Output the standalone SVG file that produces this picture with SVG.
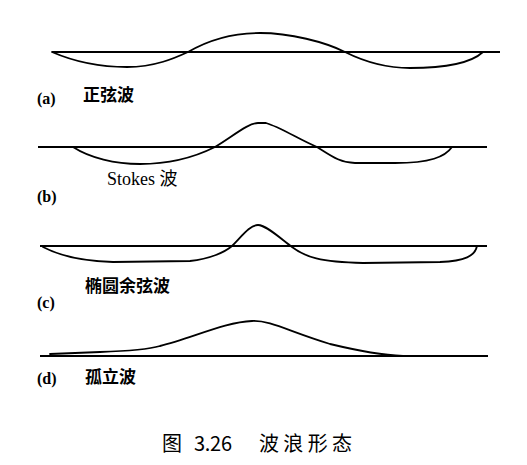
<svg xmlns="http://www.w3.org/2000/svg" width="527" height="465" viewBox="0 0 527 465">
<style>
.base{stroke:#000;stroke-width:1.8;fill:none}
.wave{stroke:#000;stroke-width:1.8;fill:none;stroke-linejoin:round;stroke-linecap:round}
.lab{font-family:"Liberation Serif",serif;font-weight:bold;font-size:16px;fill:#000}
.cjk{font-family:"Noto Sans CJK SC",sans-serif;font-weight:bold;font-size:17px;fill:#000}
.en{font-family:"Liberation Serif","Noto Sans CJK SC",serif;font-size:18px;fill:#000}
.cap{font-family:"Noto Sans CJK SC",sans-serif;font-size:20px;fill:#000}
</style>
<rect width="527" height="465" fill="#fff"/>
<g id="panel-a">
<line class="base" x1="52" y1="52" x2="500" y2="52"/>
<path class="wave" d="M52,52 C75,62 100,67 127,67 C155,67 175,58 188,52 C205,42 230,33 260,33 C290,33 325,42 345,52 C365,62 385,68 410,68 C440,68 470,64 483,52"/>
<text class="lab" x="37" y="104">(a)</text>
<text class="cjk" x="83" y="101">正弦波</text>
</g>
<g id="panel-b">
<line class="base" x1="38" y1="147" x2="487" y2="147"/>
<path class="wave" d="M73,147 C90,158 115,164 140,164 C170,164 195,157 215,147 C232,137 248,123 258,123 L266,123 C280,127 300,140 317,147 C330,155 340,163 355,163 L395,163 C430,163 445,157 452,147"/>
<text class="en" x="107" y="185">Stokes 波</text>
<text class="lab" x="37" y="202">(b)</text>
</g>
<g id="panel-c">
<line class="base" x1="40" y1="246" x2="487" y2="246"/>
<path class="wave" d="M43,247 C60,256 80,261 113,262 L190,261 C210,259 225,252 232,246 C242,236 250,225 258,225 C266,225 280,238 292,247 C305,257 320,262 363,263 L440,262 C465,261 475,256 477,246"/>
<text class="cjk" x="85" y="292">椭圆余弦波</text>
<text class="lab" x="37" y="308">(c)</text>
</g>
<g id="panel-d">
<line class="base" x1="40" y1="356" x2="488" y2="356"/>
<path class="wave" d="M50,354 L100,352 C130,351 150,349 160,346 C190,339 225,322 252,321 C270,320 290,332 330,344 C355,350 380,355 403,356"/>
<text class="lab" x="37" y="384">(d)</text>
<text class="cjk" x="85" y="383">孤立波</text>
</g>
<g id="caption">
<text class="cap" x="162" y="451">图</text>
<text class="cap" x="194" y="451" textLength="38" lengthAdjust="spacing">3.26</text>
<text class="cap" x="259" y="451" textLength="93" lengthAdjust="spacing">波浪形态</text>
</g>
</svg>
